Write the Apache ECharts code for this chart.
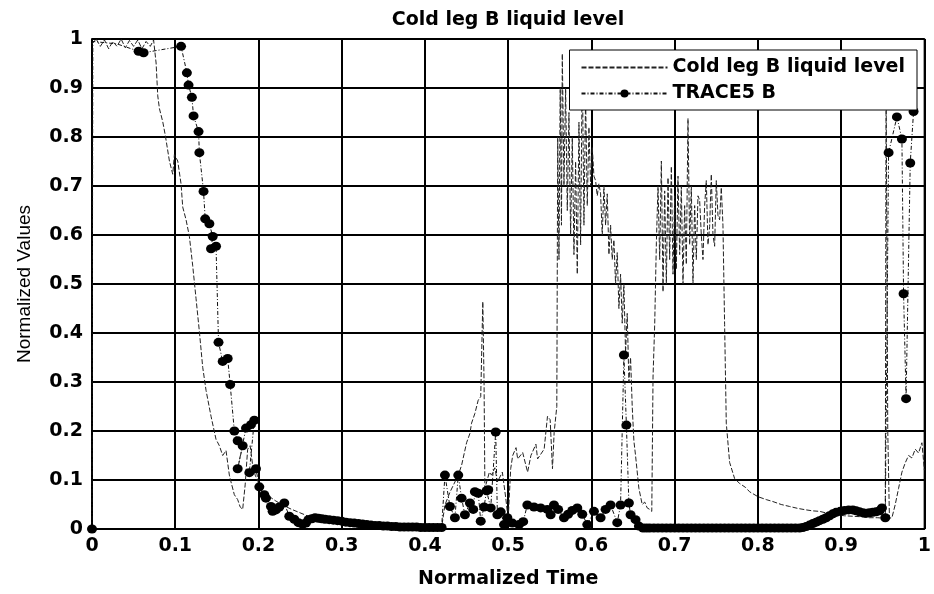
<!DOCTYPE html>
<html>
<head>
<meta charset="utf-8">
<script src="https://cdn.jsdelivr.net/npm/echarts@6/dist/echarts.min.js"></script>
<style>
html,body{margin:0;padding:0;background:#fff;}
#chart{width:934px;height:594px;}
</style>
</head>
<body>
<div id="chart"></div>
<script>
const titleText = 'Cold leg B liquid level';
const seriesNames = ['Cold leg B liquid level', 'TRACE5 B'];
const xAxisName = 'Normalized Time';
const yAxisName = 'Normalized Values';

const coldTime = [
0.000,0.005,0.010,0.015,0.020,0.025,0.030,0.035,0.040,0.045,0.050,0.055,0.060,0.065,0.070,0.074,
0.077,0.079,0.081,0.085,0.088,0.093,0.097,0.099,0.103,0.107,0.109,0.113,0.117,0.121,0.125,0.129,
0.133,0.137,0.143,0.149,0.153,0.157,0.161,0.165,0.167,0.171,0.175,0.178,0.181,0.184,0.187,0.190,
0.193,0.196,0.200,0.205,0.210,0.220,0.230,0.240,0.250,0.260,0.270,0.280,0.300,0.320,0.340,0.360,
0.380,0.400,0.420,0.424,0.430,0.436,0.440,0.444,0.450,0.454,0.456,0.460,0.464,0.467,0.4695,0.471,
0.472,0.4774,0.480,0.484,0.487,0.493,0.497,0.500,0.503,0.5054,0.5094,0.5114,0.5174,0.5233,0.5273,0.5333,
0.5353,0.5432,0.5472,0.5504,0.5532,0.5552,0.5584,0.5595,0.561,0.5625,0.564,0.565,0.567,0.569,0.571,0.573,
0.575,0.577,0.579,0.581,0.583,0.585,0.587,0.589,0.591,0.593,0.595,0.597,0.599,0.601,0.603,0.605,
0.607,0.609,0.611,0.613,0.615,0.617,0.619,0.621,0.623,0.625,0.627,0.629,0.631,0.633,0.635,0.637,
0.639,0.641,0.643,0.645,0.647,0.649,0.651,0.653,0.657,0.661,0.664,0.667,0.670,0.6725,0.674,0.676,
0.678,0.680,0.682,0.684,0.686,0.688,0.690,0.692,0.694,0.696,0.698,0.700,0.702,0.704,0.706,0.708,
0.710,0.712,0.714,0.716,0.718,0.720,0.722,0.724,0.726,0.728,0.730,0.732,0.734,0.736,0.738,0.740,
0.742,0.744,0.746,0.748,0.750,0.752,0.754,0.756,0.758,0.760,0.762,0.766,0.772,0.778,0.785,0.790,
0.800,0.810,0.818,0.828,0.838,0.848,0.858,0.866,0.874,0.884,0.894,0.904,0.914,0.924,0.934,0.944,
0.950,0.953,0.954,0.956,0.958,0.961,0.965,0.969,0.973,0.977,0.981,0.985,0.989,0.993,0.997,1.000
];
const coldLevel = [
0.990,1.000,0.985,0.998,0.980,0.995,0.985,1.000,0.982,0.997,0.985,0.998,0.980,0.995,0.985,0.998,
0.951,0.884,0.858,0.831,0.804,0.751,0.724,0.764,0.751,0.704,0.657,0.631,0.597,0.537,0.470,0.403,
0.330,0.283,0.230,0.183,0.170,0.150,0.160,0.110,0.096,0.070,0.060,0.045,0.040,0.090,0.163,0.170,
0.130,0.110,0.095,0.080,0.070,0.058,0.048,0.040,0.033,0.026,0.021,0.017,0.012,0.009,0.007,0.005,
0.004,0.003,0.003,0.049,0.075,0.096,0.110,0.130,0.176,0.195,0.216,0.236,0.263,0.270,0.464,0.300,
0.083,0.116,0.110,0.125,0.096,0.116,0.064,0.020,0.123,0.150,0.166,0.143,0.156,0.116,0.150,0.173,
0.143,0.163,0.230,0.223,0.123,0.197,0.250,0.800,0.550,0.900,0.620,0.970,0.700,0.900,0.650,0.850,
0.600,0.800,0.560,0.750,0.520,0.830,0.580,0.950,0.620,0.880,0.660,0.820,0.700,0.780,0.720,0.711,
0.680,0.705,0.684,0.600,0.700,0.620,0.684,0.560,0.620,0.550,0.590,0.500,0.564,0.450,0.520,0.420,
0.500,0.360,0.440,0.300,0.350,0.250,0.180,0.150,0.083,0.050,0.055,0.043,0.040,0.036,0.310,0.417,
0.584,0.700,0.550,0.751,0.484,0.690,0.500,0.717,0.550,0.740,0.520,0.680,0.530,0.720,0.560,0.700,
0.500,0.660,0.540,0.838,0.580,0.700,0.500,0.660,0.550,0.680,0.671,0.600,0.550,0.660,0.711,0.580,
0.617,0.724,0.600,0.577,0.711,0.640,0.631,0.697,0.620,0.417,0.216,0.136,0.103,0.093,0.085,0.076,
0.066,0.060,0.056,0.050,0.046,0.042,0.039,0.037,0.036,0.032,0.029,0.027,0.026,0.025,0.023,0.023,
0.022,0.020,0.900,0.200,0.022,0.023,0.050,0.083,0.116,0.135,0.150,0.145,0.163,0.155,0.176,0.120
];

const traceTime = [
0.000,0.001,0.030,0.056,0.062,0.107,0.114,0.116,0.120,0.122,0.128,0.129,0.134,0.136,0.141,0.145,
0.143,0.149,0.152,0.157,0.163,0.166,0.171,0.175,0.181,0.175,0.185,0.191,0.195,0.189,0.197,0.201,
0.207,0.209,0.215,0.217,0.221,0.225,0.231,0.237,0.243,0.248,0.253,0.257,0.260,0.264,0.268,0.272,
0.276,0.280,0.285,0.290,0.295,0.300,0.305,0.310,0.315,0.320,0.325,0.330,0.335,0.340,0.345,0.350,
0.355,0.360,0.365,0.370,0.375,0.380,0.385,0.390,0.395,0.400,0.405,0.410,0.415,0.420,0.424,0.430,
0.436,0.440,0.444,0.448,0.454,0.458,0.460,0.464,0.467,0.471,0.474,0.476,0.479,0.485,0.487,0.491,
0.495,0.499,0.505,0.513,0.518,0.523,0.531,0.539,0.547,0.551,0.555,0.560,0.567,0.572,0.577,0.583,
0.589,0.595,0.603,0.611,0.617,0.623,0.631,0.635,0.639,0.642,0.645,0.647,0.653,0.657,0.662,0.666,
0.670,0.675,0.680,0.685,0.690,0.695,0.700,0.705,0.710,0.715,0.720,0.725,0.730,0.735,0.740,0.745,
0.750,0.755,0.760,0.765,0.770,0.775,0.780,0.785,0.790,0.795,0.800,0.805,0.810,0.815,0.820,0.825,
0.830,0.835,0.840,0.845,0.850,0.854,0.858,0.862,0.866,0.870,0.874,0.878,0.882,0.886,0.890,0.894,
0.899,0.904,0.909,0.914,0.918,0.922,0.926,0.930,0.934,0.938,0.942,0.946,0.949,0.953,0.957,0.967,
0.973,0.975,0.978,0.983,0.987
];
const traceLevel = [
0.000,0.995,0.990,0.975,0.972,0.985,0.931,0.906,0.881,0.843,0.811,0.768,0.689,0.633,0.623,0.597,
0.572,0.577,0.381,0.342,0.348,0.295,0.200,0.180,0.170,0.123,0.206,0.213,0.222,0.115,0.123,0.086,
0.070,0.063,0.046,0.036,0.039,0.045,0.053,0.026,0.020,0.013,0.010,0.012,0.019,0.021,0.023,0.022,
0.021,0.020,0.019,0.018,0.017,0.016,0.014,0.013,0.012,0.011,0.010,0.009,0.008,0.007,0.007,0.006,
0.006,0.005,0.005,0.004,0.004,0.004,0.004,0.004,0.003,0.003,0.003,0.003,0.003,0.003,0.110,0.046,
0.023,0.110,0.063,0.029,0.053,0.040,0.076,0.073,0.016,0.045,0.078,0.080,0.043,0.198,0.029,0.035,
0.009,0.023,0.012,0.009,0.015,0.049,0.045,0.043,0.040,0.029,0.049,0.040,0.023,0.030,0.038,0.043,
0.030,0.009,0.036,0.023,0.040,0.049,0.013,0.049,0.355,0.212,0.053,0.029,0.019,0.006,0.002,0.002,
0.002,0.002,0.002,0.002,0.002,0.002,0.002,0.002,0.002,0.002,0.002,0.002,0.002,0.002,0.002,0.002,
0.002,0.002,0.002,0.002,0.002,0.002,0.002,0.002,0.002,0.002,0.002,0.002,0.002,0.002,0.002,0.002,
0.002,0.002,0.002,0.002,0.002,0.003,0.005,0.008,0.011,0.014,0.017,0.020,0.023,0.027,0.031,0.034,
0.036,0.038,0.039,0.039,0.037,0.035,0.033,0.032,0.033,0.034,0.035,0.037,0.043,0.023,0.768,0.841,
0.796,0.480,0.266,0.747,0.852
];
// samples of the TRACE5 B curve that carry no marker
const traceUnmarked = [1, 2];

const coldData = coldTime.map((t, i) => [t, coldLevel[i]]);
const traceData = traceTime.map((t, i) => {
  const item = { value: [t, traceLevel[i]] };
  if (traceUnmarked.indexOf(i) >= 0) item.symbol = 'none';
  return item;
});

const chart = echarts.init(document.getElementById('chart'), null, { renderer: 'canvas' });
const boldFont = { fontFamily: 'DejaVu Sans', fontWeight: 'bold', fontSize: 19, color: '#000' };

chart.setOption({
  animation: false,
  backgroundColor: '#fff',
  title: {
    text: titleText,
    left: 503, textAlign: 'center', top: 6,
    textStyle: Object.assign({}, boldFont)
  },
  legend: {
    data: [
      { name: seriesNames[0], itemStyle: { opacity: 0 } },
      { name: seriesNames[1] }
    ],
    orient: 'vertical',
    right: 17, top: 50,
    backgroundColor: '#fff',
    borderColor: '#000', borderWidth: 1,
    padding: [8, 12, 7, 11],
    itemWidth: 86, itemHeight: 10, itemGap: 7,
    textStyle: Object.assign({}, boldFont, { fontSize: 19 })
  },
  grid: {
    left: 92, right: 5, top: 39, bottom: 56,
    show: true, borderColor: '#000', borderWidth: 1.5
  },
  xAxis: {
    type: 'value', min: 0, max: 1, interval: 0.1,
    name: xAxisName, nameLocation: 'middle', nameGap: 41,
    nameTextStyle: Object.assign({}, boldFont),
    axisLine: { show: true, lineStyle: { color: '#000', width: 1.5 } },
    axisTick: { show: true, inside: true, length: 4, lineStyle: { color: '#000' } },
    axisLabel: Object.assign({ margin: 8 }, boldFont),
    splitLine: { show: true, lineStyle: { color: '#000', width: 2 } }
  },
  yAxis: {
    type: 'value', min: 0, max: 1, interval: 0.1,
    name: yAxisName, nameLocation: 'middle', nameGap: 58, nameRotate: 90,
    nameTextStyle: { fontFamily: "'Liberation Sans Narrow', 'Liberation Sans', Arial", fontSize: 19, color: '#000' },
    axisLine: { show: true, lineStyle: { color: '#000', width: 1.5 } },
    axisTick: { show: true, inside: true, length: 4, lineStyle: { color: '#000' } },
    axisLabel: Object.assign({ margin: 9 }, boldFont),
    splitLine: { show: true, lineStyle: { color: '#000', width: 2 } }
  },
  series: [
    {
      name: seriesNames[0], type: 'line', data: coldData,
      symbol: 'none', silent: true,
      lineStyle: { color: '#222', width: 1, type: [5, 2] },
      itemStyle: { color: '#222' }
    },
    {
      name: seriesNames[1], type: 'line', data: traceData,
      symbol: 'circle', symbolSize: [10, 9], silent: true,
      lineStyle: { color: '#111', width: 1, type: [4, 2, 1, 2] },
      itemStyle: { color: '#000' }
    }
  ]
});
</script>
</body>
</html>
